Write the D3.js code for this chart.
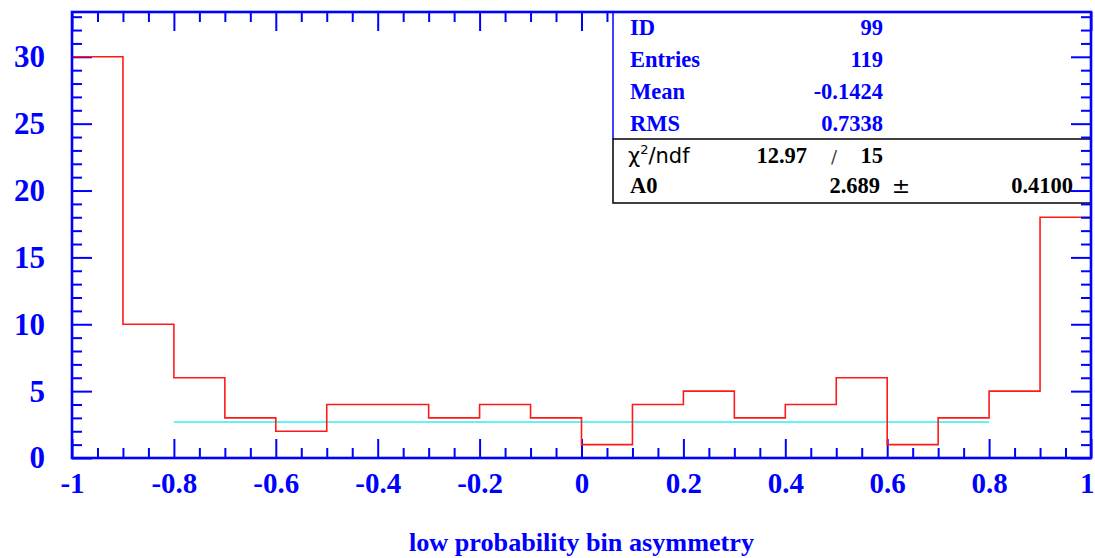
<!DOCTYPE html>
<html><head><meta charset="utf-8">
<script src="https://cdn.jsdelivr.net/npm/d3@7"></script>
<style>body{margin:0;background:#fff}svg{display:block}</style>
</head><body>
<svg id="c" width="1095" height="558"></svg>
<script>
// ---- data ----
const binEdges = [-1,-0.9,-0.8,-0.7,-0.6,-0.5,-0.4,-0.3,-0.2,-0.1,0,0.1,0.2,0.3,0.4,0.5,0.6,0.7,0.8,0.9,1];
const counts = [30,10,6,3,2,4,4,3,4,3,1,4,5,3,4,6,1,3,5,18];
const fitValue = 2.689;
const fitRange = [-0.8, 0.8];
const xTickValues = [-1,-0.8,-0.6,-0.4,-0.2,0,0.2,0.4,0.6,0.8,1];
const xTickLabels = ["-1","-0.8","-0.6","-0.4","-0.2","0","0.2","0.4","0.6","0.8","1"];
const yTickValues = [0,5,10,15,20,25,30];
const yTickLabels = ["0","5","10","15","20","25","30"];
const xTitle = "low probability bin asymmetry";
const statsNames = ["ID","Entries","Mean","RMS"];
const statsValues = ["99","119","-0.1424","0.7338"];
const chi2 = "12.97", ndf = "15";
const parName = "A0", parValue = "2.689", parError = "0.4100";

// ---- layout ----
const L = 72, R = 1091, T = 12, B = 458;
const blue = "#0000ff";
const svg = d3.select("#c");
const x = d3.scaleLinear().domain([-1, 1]).range([L, R]);
const y = d3.scaleLinear().domain([0, 33.35]).range([B, T]);

const minorX = d3.range(-1, 1.0001, 0.05).map(v => +v.toFixed(2)).filter(v => !xTickValues.some(t => Math.abs(t - v) < 1e-6));
const minorY = d3.range(0, 34, 1).filter(v => v % 5 !== 0);

function styleAxis(g) {
  g.select(".domain").remove();
  g.selectAll(".tick line").attr("stroke", blue).attr("stroke-width", 2);
}
const serif = "'Liberation Serif', 'Times New Roman', serif";

// bottom axis major (with labels)
const gxb = svg.append("g").attr("transform", `translate(0,${B})`)
  .call(d3.axisBottom(x).tickValues(xTickValues).tickSize(-19).tickPadding(14)
    .tickFormat((d, i) => xTickLabels[i]));
styleAxis(gxb);
gxb.selectAll(".tick text").attr("fill", blue).attr("font-family", serif)
  .attr("font-weight", "bold").attr("font-size", 29);
// keep the last label inside the page
gxb.selectAll(".tick text").filter(d => d === 1).attr("text-anchor", "end").attr("x", 3);
const gxbm = svg.append("g").attr("transform", `translate(0,${B})`)
  .call(d3.axisBottom(x).tickValues(minorX).tickSize(-10).tickFormat(""));
styleAxis(gxbm);
// top axis
const gxt = svg.append("g").attr("transform", `translate(0,${T})`)
  .call(d3.axisTop(x).tickValues(xTickValues).tickSize(-19).tickFormat(""));
styleAxis(gxt);
const gxtm = svg.append("g").attr("transform", `translate(0,${T})`)
  .call(d3.axisTop(x).tickValues(minorX).tickSize(-10).tickFormat(""));
styleAxis(gxtm);
// left axis
const gyl = svg.append("g").attr("transform", `translate(${L},0)`)
  .call(d3.axisLeft(y).tickValues(yTickValues).tickSize(-20).tickPadding(47)
    .tickFormat((d, i) => yTickLabels[i]));
styleAxis(gyl);
gyl.selectAll(".tick text").attr("fill", blue).attr("font-family", serif)
  .attr("font-weight", "bold").attr("font-size", 31).attr("text-anchor", "end").attr("x", -27);
const gylm = svg.append("g").attr("transform", `translate(${L},0)`)
  .call(d3.axisLeft(y).tickValues(minorY).tickSize(-10).tickFormat(""));
styleAxis(gylm);

// fit line
svg.append("line")
  .attr("x1", x(fitRange[0])).attr("x2", x(fitRange[1]))
  .attr("y1", y(fitValue)).attr("y2", y(fitValue))
  .attr("stroke", "#33eeee").attr("stroke-width", 1.6);

// histogram step line
const pts = [];
counts.forEach((c, i) => { pts.push([binEdges[i], c]); pts.push([binEdges[i + 1], c]); });
svg.append("path")
  .attr("d", d3.line().x(d => x(d[0])).y(d => y(d[1]))(pts))
  .attr("fill", "none").attr("stroke", "#ff1a1a").attr("stroke-width", 1.6);

// stats box
const sbL = 613, sbDiv = 139, sbB = 203;
svg.append("rect").attr("x", sbL).attr("y", T).attr("width", R - sbL).attr("height", sbB - T)
  .attr("fill", "#fff");
svg.append("line").attr("x1", sbL).attr("x2", sbL).attr("y1", T).attr("y2", sbDiv)
  .attr("stroke", blue).attr("stroke-width", 1.5);
svg.append("path").attr("d", `M${R},${sbDiv}H${sbL}V${sbB}H${R}`)
  .attr("fill", "none").attr("stroke", "#000").attr("stroke-width", 1.5);

// right axis (drawn over box)
const gyr = svg.append("g").attr("transform", `translate(${R},0)`)
  .call(d3.axisRight(y).tickValues(yTickValues).tickSize(-20).tickFormat(""));
styleAxis(gyr);
const gyrm = svg.append("g").attr("transform", `translate(${R},0)`)
  .call(d3.axisRight(y).tickValues(minorY).tickSize(-10).tickFormat(""));
styleAxis(gyrm);

// frame
svg.append("rect").attr("x", L).attr("y", T).attr("width", R - L).attr("height", B - T)
  .attr("fill", "none").attr("stroke", blue).attr("stroke-width", 2.6);

const statY = [35, 67, 99, 131];
statsNames.forEach((n, i) => {
  svg.append("text").attr("x", 630).attr("y", statY[i]).text(n)
    .attr("fill", blue).attr("font-family", serif).attr("font-weight", "bold").attr("font-size", 22.5);
  svg.append("text").attr("x", 883).attr("y", statY[i]).text(statsValues[i]).attr("text-anchor", "end")
    .attr("fill", blue).attr("font-family", serif).attr("font-weight", "bold").attr("font-size", 22.5);
});
const chiT = svg.append("text").attr("x", 628).attr("y", 163)
  .attr("font-family", "'DejaVu Sans', sans-serif").attr("font-size", 21).attr("fill", "#000");
chiT.append("tspan").text("χ");
chiT.append("tspan").text("2").attr("dy", -9).attr("font-size", 13);
chiT.append("tspan").text("/ndf").attr("dy", 9);
svg.append("text").attr("x", 807).attr("y", 163).text(chi2).attr("text-anchor", "end")
  .attr("font-family", serif).attr("font-weight", "bold").attr("font-size", 22.5);
svg.append("text").attr("x", 834).attr("y", 163).text("/").attr("text-anchor", "middle")
  .attr("font-family", "'DejaVu Sans', sans-serif").attr("font-size", 18).attr("fill", "#444");
svg.append("text").attr("x", 883).attr("y", 163).text(ndf).attr("text-anchor", "end")
  .attr("font-family", serif).attr("font-weight", "bold").attr("font-size", 22.5);
svg.append("text").attr("x", 630).attr("y", 193).text(parName)
  .attr("font-family", serif).attr("font-weight", "bold").attr("font-size", 22.5);
svg.append("text").attr("x", 880).attr("y", 193).text(parValue).attr("text-anchor", "end")
  .attr("font-family", serif).attr("font-weight", "bold").attr("font-size", 22.5);
svg.append("text").attr("x", 901).attr("y", 193).text("±").attr("text-anchor", "middle")
  .attr("font-family", "'DejaVu Sans', sans-serif").attr("font-size", 22);
svg.append("text").attr("x", 1073).attr("y", 193).text(parError).attr("text-anchor", "end")
  .attr("font-family", serif).attr("font-weight", "bold").attr("font-size", 22.5);

// x title
svg.append("text").attr("x", (L + R) / 2).attr("y", 551).text(xTitle).attr("text-anchor", "middle")
  .attr("fill", blue).attr("font-family", serif).attr("font-weight", "bold").attr("font-size", 26.2);
</script>
</body></html>
